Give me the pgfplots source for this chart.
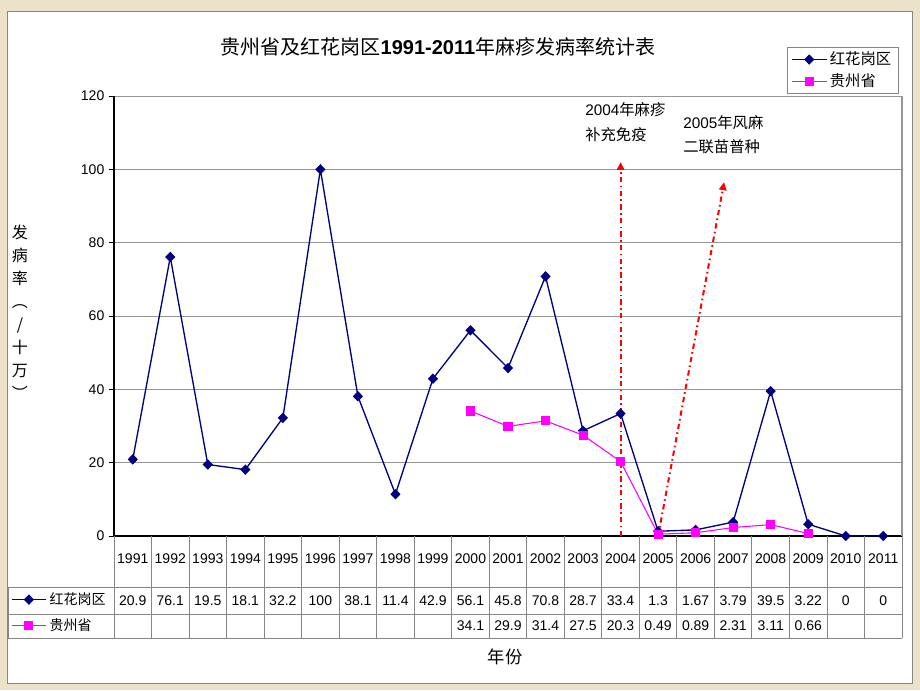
\documentclass[border=0pt]{standalone}
\usepackage{pgfplots}
\pgfplotsset{compat=1.18}
\usepackage{pgfplotstable}
\usepackage{fontspec}
\setmainfont{Liberation Sans}
\newfontfamily\cjk{Noto Sans CJK SC}
\usetikzlibrary{arrows.meta}

\definecolor{navy}{RGB}{0,0,128}
\definecolor{mag}{RGB}{255,0,255}
\definecolor{frame}{RGB}{134,134,134}
\definecolor{gridgray}{RGB}{150,150,150}
\definecolor{bgbeige}{RGB}{236,226,202}
\definecolor{arrowred}{RGB}{255,0,0}

% incidence per 100 000
\pgfplotstableread{
year hhg  gz
1991 20.9 nan
1992 76.1 nan
1993 19.5 nan
1994 18.1 nan
1995 32.2 nan
1996 100  nan
1997 38.1 nan
1998 11.4 nan
1999 42.9 nan
2000 56.1 34.1
2001 45.8 29.9
2002 70.8 31.4
2003 28.7 27.5
2004 33.4 20.3
2005 1.3  0.49
2006 1.67 0.89
2007 3.79 2.31
2008 39.5 3.11
2009 3.22 0.66
2010 0    nan
2011 0    nan
}\rates

\pgfplotsset{
  keyline/.style={legend image code/.code={
      \draw[mark repeat=2,mark phase=2,##1] plot coordinates {(0pt,0pt) (13pt,0pt) (26pt,0pt)};}},
  hhgstyle/.style={navy, line width=1pt, mark=diamond*, mark size=3.2pt, mark options={xscale=1.3, solid}},
  gzstyle/.style={mag, line width=0.8pt, mark=square*, mark size=3pt, mark options={solid}},
}

\begin{document}
\begin{tikzpicture}[x=0.75pt,y=0.75pt]
\fill[bgbeige] (0,0) rectangle (920,690);
\filldraw[fill=white, draw=frame] (7,7) rectangle (912,679);

% plot area: lower left at px (114,154)
\begin{axis}[
    at={(85.5pt,115.5pt)}, anchor=south west,
    scale only axis, width=591pt, height=330pt,
    xmin=1990.5, xmax=2011.5, ymin=0, ymax=120,
    xtick=\empty, ytick distance=20,
    axis lines*=left, axis line style={-, black, line width=0.8pt},
    tick align=outside, major tick length=3.75pt, tick style={black, line width=0.6pt},
    ymajorgrids, grid style={gridgray, line width=0.7pt},
    yticklabel style={font=\fontsize{10.5}{12}\selectfont},
    /pgf/number format/assume math mode=true,
    clip=false,
    keyline,
    legend style={at={(0.854,1.111)}, anchor=north west, draw=frame, fill=white,
        font=\fontsize{11.5}{13}\selectfont, cells={anchor=west}, inner xsep=3pt, inner ysep=1.5pt, row sep=1pt},
  ]
  \addplot[hhgstyle] table[x=year, y=hhg] {\rates};
  \addlegendentry{\cjk 红花岗区}
  \addplot[gzstyle] table[x=year, y=gz] {\rates};
  \addlegendentry{\cjk 贵州省}

  \draw[gridgray, line width=0.8pt] (rel axis cs:1,0) -- (rel axis cs:1,1);

  % vaccination campaigns
  \draw[arrowred, line width=1.5pt, dash pattern=on 4pt off 2.5pt on 1.2pt off 2.5pt,
        -{Triangle[width=5.5pt,length=6pt]}] (axis cs:2004,0) -- (axis cs:2004,102);
  \draw[arrowred, line width=1.5pt, dash pattern=on 4pt off 2.5pt on 1.2pt off 2.5pt,
        -{Triangle[width=5.5pt,length=6pt]}] (axis cs:2005,0) -- (axis cs:2006.76,96.5);
\end{axis}

% keys of the data table: px (8,52), 106 x 51
\begin{axis}[
    at={(6pt,39pt)}, anchor=south west,
    scale only axis, width=79.5pt, height=38.25pt,
    hide axis, xmin=0, xmax=1, ymin=0, ymax=1,
    keyline,
    legend style={at={(0,0.5)}, anchor=west, draw=none, fill=none,
        font=\fontsize{10.5}{12}\selectfont, cells={anchor=west}, inner xsep=2pt, row sep=5pt},
  ]
  \addlegendimage{hhgstyle}
  \addlegendentry{\cjk 红花岗区}
  \addlegendimage{gzstyle}
  \addlegendentry{\cjk 贵州省}
\end{axis}

% data table
\foreach \k in {0,...,21} \draw[frame, line width=0.7pt] ({114+\k*37.524},154) -- ({114+\k*37.524},52);
\draw[frame, line width=0.7pt] (8,103) -- (902,103);
\draw[frame, line width=0.7pt] (8,76) -- (902,76);
\draw[frame, line width=0.7pt] (8,52) -- (902,52);
\draw[frame, line width=0.7pt] (8,103) -- (8,52);
\foreach \yr/\a/\b [count=\k from 0] in {
    1991/20.9/{}, 1992/76.1/{}, 1993/19.5/{}, 1994/18.1/{}, 1995/32.2/{},
    1996/100/{}, 1997/38.1/{}, 1998/11.4/{}, 1999/42.9/{}, 2000/56.1/34.1,
    2001/45.8/29.9, 2002/70.8/31.4, 2003/28.7/27.5, 2004/33.4/20.3, 2005/1.3/0.49,
    2006/1.67/0.89, 2007/3.79/2.31, 2008/39.5/3.11, 2009/3.22/0.66, 2010/0/{}, 2011/0/{}} {
  \pgfmathsetmacro\cx{114+(\k+0.5)*37.524}
  \node[font=\fontsize{10.5}{12}\selectfont] at (\cx,131) {\yr};
  \node[font=\fontsize{10.5}{12}\selectfont] at (\cx,89.5) {\a};
  \node[font=\fontsize{10.5}{12}\selectfont] at (\cx,64) {\b};
}

% titles and notes
\node[font=\fontsize{15}{18}\selectfont] at (438,643)
  {{\cjk 贵州省及红花岗区}\textbf{1991-2011}{\cjk 年麻疹发病率统计表}};
\node[font=\cjk\fontsize{12}{17.25}\selectfont, align=center] at (20,378)
  {发\\病\\率\\︵\\/\\十\\万\\︶};
\node[font=\cjk\fontsize{13}{15}\selectfont] at (505,33) {年份};
\node[anchor=west, inner sep=0pt, font=\fontsize{11.5}{14}\selectfont] at (585,580) {2004{\cjk 年麻疹}};
\node[anchor=west, inner sep=0pt, font=\fontsize{11.5}{14}\selectfont] at (585,555) {\cjk 补充免疫};
\node[anchor=west, inner sep=0pt, font=\fontsize{11.5}{14}\selectfont] at (683,567) {2005{\cjk 年风麻}};
\node[anchor=west, inner sep=0pt, font=\fontsize{11.5}{14}\selectfont] at (683,543) {\cjk 二联苗普种};
\end{tikzpicture}
\end{document}
